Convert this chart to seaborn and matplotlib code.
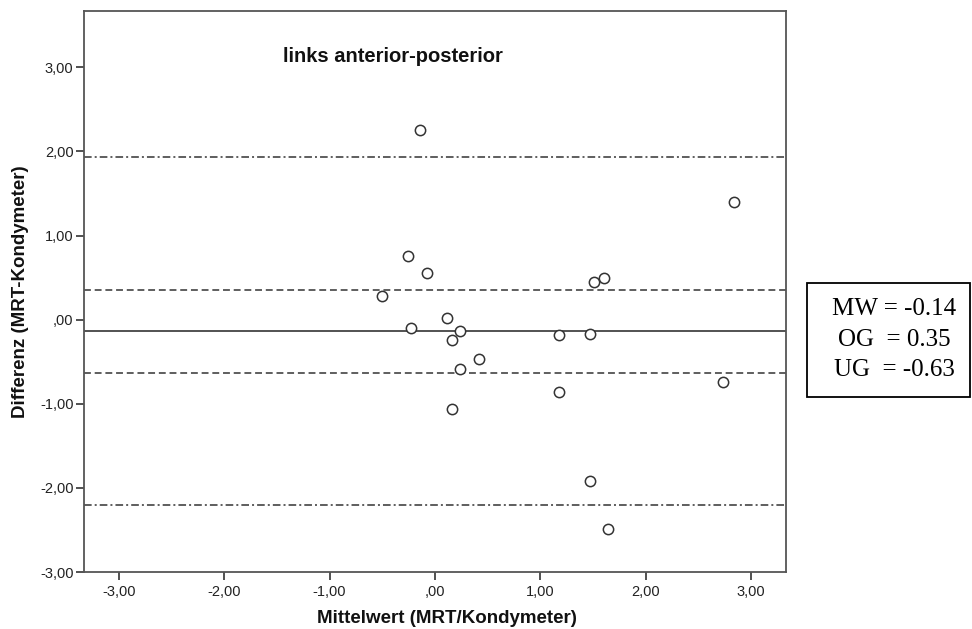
import matplotlib
matplotlib.use("Agg")
import matplotlib.pyplot as plt
from matplotlib.patches import Rectangle
import seaborn as sns
import pandas as pd

# data
mean_vals = [-0.14, -0.26, -0.08, -0.50, -0.23, 0.11, 0.16, 0.24, 1.18, 1.47,
             1.51, 1.60, 0.42, 0.24, 0.16, 1.18, 1.47, 1.64, 2.84, 2.73]
diff_vals = [2.26, 0.76, 0.55, 0.28, -0.10, 0.02, -0.24, -0.14, -0.18, -0.17,
             0.45, 0.49, -0.47, -0.59, -1.06, -0.86, -1.92, -2.49, 1.40, -0.74]
mw = -0.14
og = 0.35
ug = -0.63
loa_upper = 1.93
loa_lower = -2.20
title_text = "links anterior-posterior"
x_label = "Mittelwert (MRT/Kondymeter)"
y_label = "Differenz (MRT-Kondymeter)"
ticks = [-3, -2, -1, 0, 1, 2, 3]
tick_labels = ["-3,00", "-2,00", "-1,00", ",00", "1,00", "2,00", "3,00"]
box_lines = ["MW = -0.14", "OG  = 0.35", "UG  = -0.63"]

df = pd.DataFrame({"Mittelwert": mean_vals, "Differenz": diff_vals})

sns.set_style("white")
plt.rcParams["font.family"] = ["Liberation Sans", "DejaVu Sans"]

fig = plt.figure(figsize=(9.72, 6.29), dpi=100)
ax = fig.add_axes([84 / 972, 1 - 572 / 629, (786 - 84) / 972, (572 - 11) / 629])

line_col = "#333333"
ax.axhline(loa_upper, color=line_col, lw=1.1, dashes=(5, 2, 1.3, 2), zorder=1)
ax.axhline(og, color=line_col, lw=1.1, dashes=(4.5, 2.5), zorder=1)
ax.axhline(mw, color="#444444", lw=1.3, zorder=1)
ax.axhline(ug, color=line_col, lw=1.1, dashes=(4.5, 2.5), zorder=1)
ax.axhline(loa_lower, color=line_col, lw=1.1, dashes=(5, 2, 1.3, 2), zorder=1)

sns.scatterplot(data=df, x="Mittelwert", y="Differenz", ax=ax, s=55,
                facecolor="white", edgecolor="#333333", linewidth=1.1, zorder=3)

ax.set_xlim(-3.33, 3.33)
ax.set_ylim(-3.0, 3.67)
ax.set_xticks(ticks)
ax.set_xticklabels(tick_labels)
ax.set_yticks(ticks)
ax.set_yticklabels(tick_labels)
ax.tick_params(axis="both", direction="out", length=5.5, width=1.2, color="#333333",
               labelsize=10.5, labelcolor="#222222", pad=2, left=True, bottom=True)
ax.tick_params(axis="x", pad=4)
for sp in ax.spines.values():
    sp.set_color("#555555")
    sp.set_linewidth(1.3)

ax.set_xlabel(x_label, fontsize=13.5, fontweight="bold", color="#111111")
ax.xaxis.label.set_va("center")
ax.xaxis.set_label_coords(0.517, -0.082)
ax.set_ylabel(y_label, fontsize=13.5, fontweight="bold", color="#111111")
ax.yaxis.label.set_va("center")
ax.yaxis.label.set_ha("center")
ax.yaxis.set_label_coords(-0.091, 0.5)

ax.text(283 / 972, 1 - 57 / 629, title_text, transform=fig.transFigure,
        fontsize=14.5, fontweight="bold", ha="left", va="center", color="#111111")

# statistics box
fig.patches.append(Rectangle((807 / 972, 1 - 397 / 629), (970 - 807) / 972, (397 - 283) / 629,
                             transform=fig.transFigure, fill=False, edgecolor="black", lw=1.3))
for i, t in enumerate(box_lines):
    fig.text(894 / 972, 1 - (309 + 30.5 * i) / 629, t, ha="center", va="center",
             fontsize=18, family=["Liberation Serif", "DejaVu Serif"], color="black")

fig.savefig("out.png", dpi=100)
